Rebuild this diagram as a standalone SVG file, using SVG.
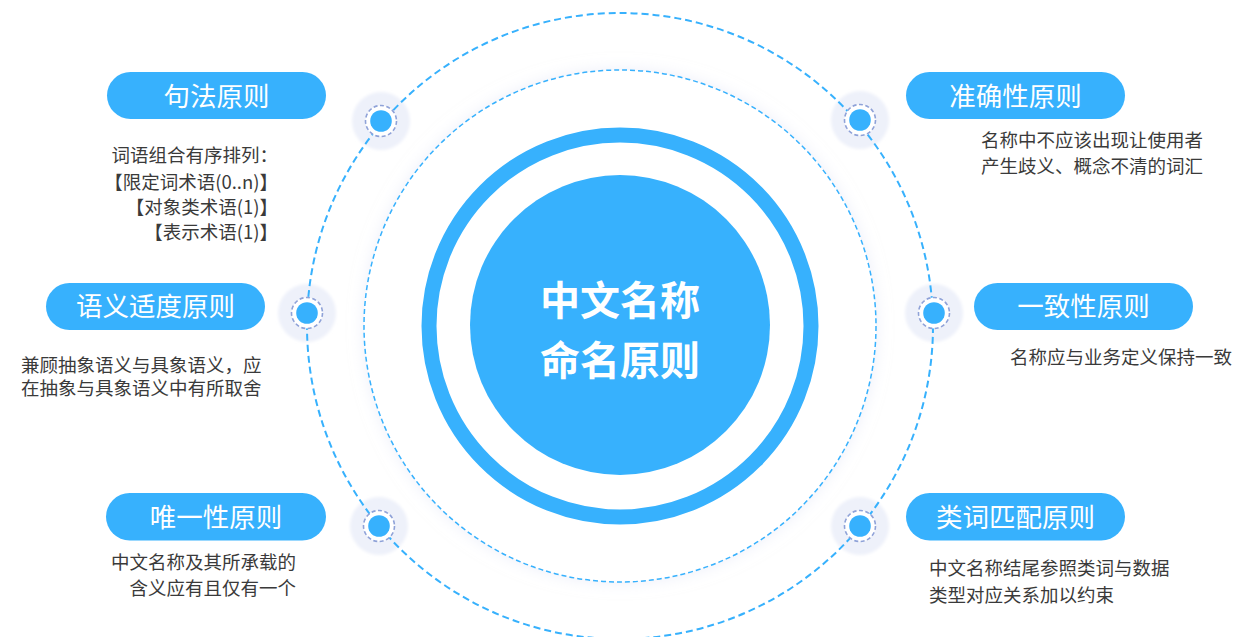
<svg xmlns="http://www.w3.org/2000/svg" width="1243" height="637" viewBox="0 0 1243 637">
<style>
.pill{fill:#37b1fd}
.pt{font-family:"Noto Sans CJK SC","Noto Sans",sans-serif;font-size:26.5px;fill:#fff;text-anchor:middle}
.desc{font-family:"Noto Sans CJK SC","Noto Sans",sans-serif;font-size:18.5px;fill:#3a3a3a}
.halo{fill:#eef1fa}
.ring{fill:#fff;stroke:#8fa2d8;stroke-width:1.6;stroke-dasharray:4 2.5}
.dot{fill:#37b1fd}
.ctr{font-family:"Noto Sans CJK SC","Noto Sans",sans-serif;font-size:40px;font-weight:bold;fill:#fff;text-anchor:middle}
</style>
<defs>
<filter id="sh" x="-20%" y="-20%" width="140%" height="140%">
<feGaussianBlur in="SourceAlpha" stdDeviation="8"/>
<feColorMatrix type="matrix" values="0 0 0 0 0.72  0 0 0 0 0.75  0 0 0 0 0.90  0 0 0 0.55 0"/>
<feMerge><feMergeNode/><feMergeNode in="SourceGraphic"/></feMerge>
</filter>
<filter id="hb" x="-30%" y="-30%" width="160%" height="160%"><feGaussianBlur stdDeviation="1.5"/></filter>
<g id="halo"><circle r="29" class="halo" filter="url(#hb)"/></g>
<g id="marker"><circle r="15.5" class="ring"/><circle r="10.8" class="dot"/></g>
</defs>
<rect width="1243" height="637" fill="#fff"/>

<g id="halos">
<use href="#halo" x="381" y="121"/>
<use href="#halo" x="307" y="313"/>
<use href="#halo" x="379" y="526"/>
<use href="#halo" x="860" y="120"/>
<use href="#halo" x="934" y="313"/>
<use href="#halo" x="860" y="526"/>
</g>

<g id="inner-ring">
<circle cx="620" cy="326" r="256" fill="#fff" filter="url(#sh)"/>
<circle cx="620" cy="326" r="256" fill="none" stroke="#37b1fd" stroke-width="1.5" stroke-dasharray="5 3"/>
</g>

<g id="connectors">
<circle cx="620" cy="326" r="313" fill="none" stroke="#37b1fd" stroke-width="2" stroke-dasharray="7 4"/>
</g>

<g id="center">
<circle cx="620" cy="326" r="191" fill="none" stroke="#37b1fd" stroke-width="15"/>
<circle cx="620" cy="325" r="150" fill="#37b1fd"/>
<text class="ctr" x="620" y="315">中文名称</text>
<text class="ctr" x="620" y="375">命名原则</text>
</g>

<g id="syntax">
<use href="#marker" x="381" y="121"/>
<rect class="pill" x="107" y="72" width="219" height="47" rx="23.5"/>
<text class="pt" x="216.5" y="105.5">句法原则</text>
<text class="desc" text-anchor="end"><tspan x="278" y="162">词语组合有序排列：</tspan><tspan x="278" y="188.5">【限定词术语(0..n)】</tspan><tspan x="278" y="213.5">【对象类术语(1)】</tspan><tspan x="278" y="238.5">【表示术语(1)】</tspan></text>
</g>

<g id="semantic">
<use href="#marker" x="307" y="313"/>
<rect class="pill" x="46" y="283" width="219" height="47" rx="23.5"/>
<text class="pt" x="155.5" y="316">语义适度原则</text>
<text class="desc"><tspan x="21" y="371.5">兼顾抽象语义与具象语义，应</tspan><tspan x="21" y="395">在抽象与具象语义中有所取舍</tspan></text>
</g>

<g id="unique">
<use href="#marker" x="379" y="526"/>
<rect class="pill" x="106" y="493" width="220" height="47.5" rx="23.75"/>
<text class="pt" x="216" y="527">唯一性原则</text>
<text class="desc" text-anchor="end"><tspan x="296" y="568.5">中文名称及其所承载的</tspan><tspan x="296" y="595">含义应有且仅有一个</tspan></text>
</g>

<g id="accuracy">
<use href="#marker" x="860" y="120"/>
<rect class="pill" x="906" y="72" width="219" height="47" rx="23.5"/>
<text class="pt" x="1015.5" y="105.5">准确性原则</text>
<text class="desc"><tspan x="981" y="147">名称中不应该出现让使用者</tspan><tspan x="981" y="173">产生歧义、概念不清的词汇</tspan></text>
</g>

<g id="consistency">
<use href="#marker" x="934" y="313"/>
<rect class="pill" x="974" y="283" width="219" height="47" rx="23.5"/>
<text class="pt" x="1083.5" y="316">一致性原则</text>
<text class="desc"><tspan x="1010" y="364">名称应与业务定义保持一致</tspan></text>
</g>

<g id="classword">
<use href="#marker" x="860" y="526"/>
<rect class="pill" x="906" y="493" width="219" height="47.5" rx="23.75"/>
<text class="pt" x="1015.5" y="527">类词匹配原则</text>
<text class="desc"><tspan x="929" y="575">中文名称结尾参照类词与数据</tspan><tspan x="929" y="602">类型对应关系加以约束</tspan></text>
</g>
</svg>
